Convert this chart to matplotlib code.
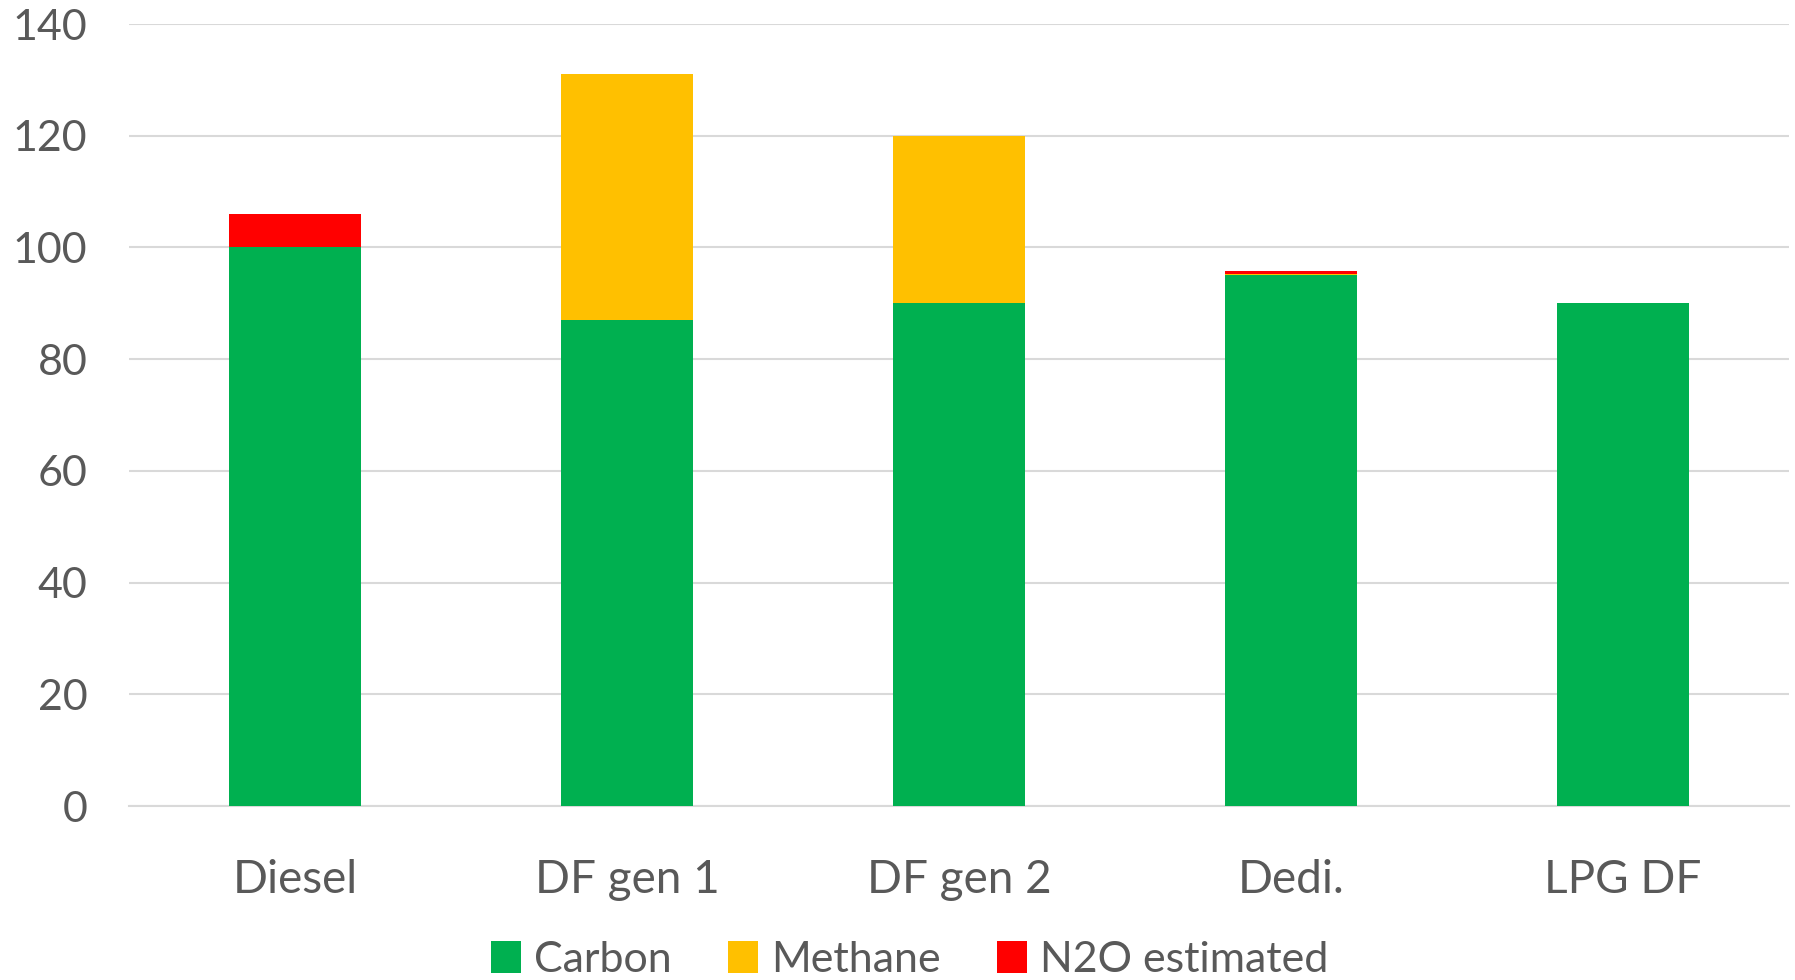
import matplotlib
matplotlib.use("Agg")
import matplotlib.pyplot as plt
import numpy as np

plt.rcParams['font.family'] = ['Lato', 'DejaVu Sans']

categories = ["Diesel", "DF gen 1", "DF gen 2", "Dedi.", "LPG DF"]
carbon = [100, 87, 90, 95, 90]
methane = [0, 44, 30, 0.3, 0]
n2o = [6, 0, 0, 0.4, 0]

green = "#00b050"
yellow = "#ffc000"
red = "#ff0000"
txt = "#595959"
grid = "#d9d9d9"

fig = plt.figure(figsize=(17.95, 9.8), dpi=100)
ax = fig.add_axes([129/1795, 1 - 806/980, 1660/1795, (806-24)/980])

x = np.arange(len(categories))
w = 0.4
carbon = np.array(carbon)
methane = np.array(methane)
n2o = np.array(n2o)

ax.bar(x, carbon, w, color=green, label="Carbon", zorder=3)
ax.bar(x, methane, w, bottom=carbon, color=yellow, label="Methane", zorder=3)
ax.bar(x, n2o, w, bottom=carbon + methane, color=red, label="N2O estimated", zorder=3)

ax.set_xlim(-0.5, len(categories) - 0.5)
ax.set_ylim(0, 140)
ax.set_yticks(range(0, 141, 20))
ax.yaxis.grid(True, color=grid, linewidth=1.5, zorder=0)
for s in ["top", "right", "left"]:
    ax.spines[s].set_visible(False)
ax.spines["bottom"].set_color(grid)
ax.spines["bottom"].set_linewidth(1.5)
ax.tick_params(axis="both", length=0, colors=txt)
ax.tick_params(axis="y", labelsize=31, pad=30)
ax.tick_params(axis="x", labelsize=33, pad=38)
ax.set_xticks(x)
ax.set_xticklabels(categories)

leg = fig.legend(loc="center", bbox_to_anchor=(0.5 + 12/1795, 1 - 960/980), ncol=3,
                 frameon=False, fontsize=31, handlelength=0.7, handleheight=0.75,
                 handletextpad=0.3, columnspacing=1.3)
for t in leg.get_texts():
    t.set_color(txt)

fig.savefig("out.png", dpi=100)
